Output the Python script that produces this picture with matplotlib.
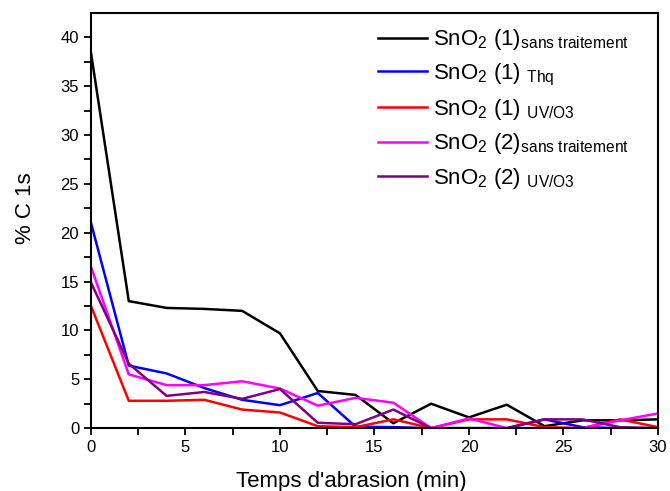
import matplotlib.pyplot as plt
import numpy as np

plt.rcParams['font.family'] = ['Liberation Sans', 'DejaVu Sans']
plt.rcParams['mathtext.fontset'] = 'custom'
plt.rcParams['mathtext.rm'] = 'Liberation Sans'
plt.rcParams['mathtext.it'] = 'Liberation Sans'

# abrasion time (min)
temps = [0, 2, 4, 6, 8, 10, 12, 14, 16, 18, 20, 22, 24, 26, 28, 30]

sno2_1_sans = [38.4, 13.0, 12.3, 12.2, 12.0, 9.7, 3.8, 3.4, 0.5, 2.5, 1.1, 2.4, 0.2, 0.8, 0.8, 0.9]
sno2_1_thq = [21.0, 6.4, 5.6, 4.1, 2.9, 2.35, 3.6, 0.15, 0.1, 0.0, 0.0, 0.0, 0.9, 0.1, 0.0, 0.0]
sno2_1_uv = [12.5, 2.8, 2.8, 2.9, 1.9, 1.6, 0.2, 0.1, 0.9, 0.0, 0.9, 0.9, 0.1, 0.0, 0.9, 0.1]
sno2_2_sans = [16.5, 5.5, 4.4, 4.4, 4.8, 4.05, 2.3, 3.1, 2.6, 0.0, 1.0, 0.0, 0.0, 0.0, 0.8, 1.5]
sno2_2_uv = [14.9, 6.6, 3.3, 3.7, 3.0, 4.0, 0.55, 0.4, 1.9, 0.0, 0.0, 0.0, 0.9, 0.9, 0.1, 0.0]

series = [sno2_1_sans, sno2_1_thq, sno2_1_uv, sno2_2_sans, sno2_2_uv]
colors = ['black', 'blue', 'red', 'magenta', 'purple']
labels = [r'SnO$_2$ (1)$_{\mathregular{sans\ traitement}}$',
          r'SnO$_2$ (1) $_{\mathregular{Thq}}$',
          r'SnO$_2$ (1) $_{\mathregular{UV/O3}}$',
          r'SnO$_2$ (2)$_{\mathregular{sans\ traitement}}$',
          r'SnO$_2$ (2) $_{\mathregular{UV/O3}}$']

fig = plt.figure(figsize=(6.7, 4.91), dpi=100)
ax = fig.add_axes([0.1358, 0.128, 0.982 - 0.1358, 0.974 - 0.128])

for y, c, lab in zip(series, colors, labels):
    ax.plot(temps, y, color=c, lw=1.8, label=lab)

ax.set_xlim(0, 30)
ax.set_ylim(0, 42.5)
ax.set_xticks(np.arange(0, 31, 5))
ax.set_xticks(np.arange(0, 31, 2.5), minor=True)
ax.set_yticks(np.arange(0, 41, 5))
ax.set_yticks(np.arange(0, 42, 2.5), minor=True)
ax.tick_params(which='both', direction='out', length=5, width=1.3, labelsize=12)
for s in ax.spines.values():
    s.set_linewidth(1.5)

ax.set_xlabel("Temps d'abrasion (min)", fontsize=16)
ax.xaxis.set_label_coords(0.46, -0.102)
ax.set_ylabel('% C 1s', fontsize=16)
ax.yaxis.set_label_coords(-0.097, 0.53)

ax.legend(loc='upper left', frameon=False, fontsize=16, handlelength=2.2,
          handletextpad=0.3, labelspacing=0.42, borderpad=0, borderaxespad=0,
          bbox_to_anchor=(0.506, 0.965))

fig.savefig('out.png', dpi=100)
